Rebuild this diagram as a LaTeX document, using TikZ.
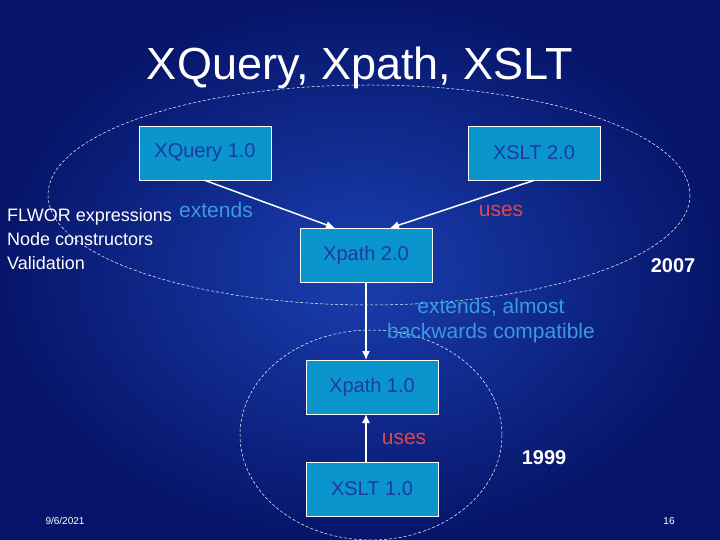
\documentclass[tikz,border=0pt]{standalone}
\usepackage{fontspec}
\setmainfont{Liberation Sans}
\usetikzlibrary{arrows.meta}
\definecolor{bgdark}{HTML}{06156A}
\definecolor{bglight}{HTML}{1A3FB0}
\definecolor{boxfill}{HTML}{0A96CC}
\definecolor{boxtext}{HTML}{1E3A9E}
\definecolor{extc}{HTML}{3A9AE0}
\definecolor{usec}{HTML}{E04848}
\begin{document}
\begin{tikzpicture}[x=1pt,y=-1pt,
  box/.style={draw=white,line width=0.8pt,fill=boxfill,minimum width=132pt,minimum height=54pt,inner sep=0pt,font=\fontsize{20}{24}\selectfont,text=boxtext},
  arr/.style={draw=white,line width=1.5pt,-{Latex[length=9pt,width=8pt]}},
  oval/.style={draw=white,line width=0.5pt,densely dashed},
  lab/.style={font=\fontsize{21}{25}\selectfont,inner sep=0pt}]
\useasboundingbox (0,0) rectangle (720,540);
\shade[inner color=bglight,outer color=bgdark] (0,0) rectangle (720,540);
\node[font=\fontsize{45}{50}\selectfont,text=white] (title) at (360,68) {XQuery, Xpath, XSLT};
\draw[oval] (369,195) ellipse [x radius=321,y radius=110];
\draw[oval] (371,435) ellipse [x radius=131,y radius=105];
\node[box] (xq) at (205,153) {XQuery 1.0};
\node[box] (xs2) at (534,153) {XSLT 2.0};
\node[box] (xp2) at (366,255) {Xpath 2.0};
\node[box] (xp1) at (372,387) {Xpath 1.0};
\node[box] (xs1) at (372,489) {XSLT 1.0};
\draw[arr] (xq.south) -- (335,228);
\draw[arr] (xs2.south) -- (390,228);
\draw[arr] (xp2.south) -- (366,360);
\draw[arr] (366,462) -- (366,414);
\node[lab,text=extc] (e1) at (216,210) {extends};
\node[lab,text=usec] (u1) at (501,211) {uses};
\node[lab,text=usec] (u2) at (404,439) {uses};
\node[lab,text=extc,align=center] (e2) at (491,321) {extends, almost\\backwards compatible};
\node[font=\fontsize{18}{24}\selectfont,text=white,align=left,anchor=north west,inner sep=0pt] (fl) at (7,208) {FLWOR expressions\\Node constructors\\Validation};
\node[font=\bfseries\fontsize{20}{24}\selectfont,text=white] (y7) at (673,266) {2007};
\node[font=\bfseries\fontsize{20}{24}\selectfont,text=white] (y9) at (544,458) {1999};
\node[font=\fontsize{10}{12}\selectfont,text=white] (d) at (65,521) {9/6/2021};
\node[font=\fontsize{10}{12}\selectfont,text=white] (p) at (669,521) {16};
\end{tikzpicture}
\end{document}
